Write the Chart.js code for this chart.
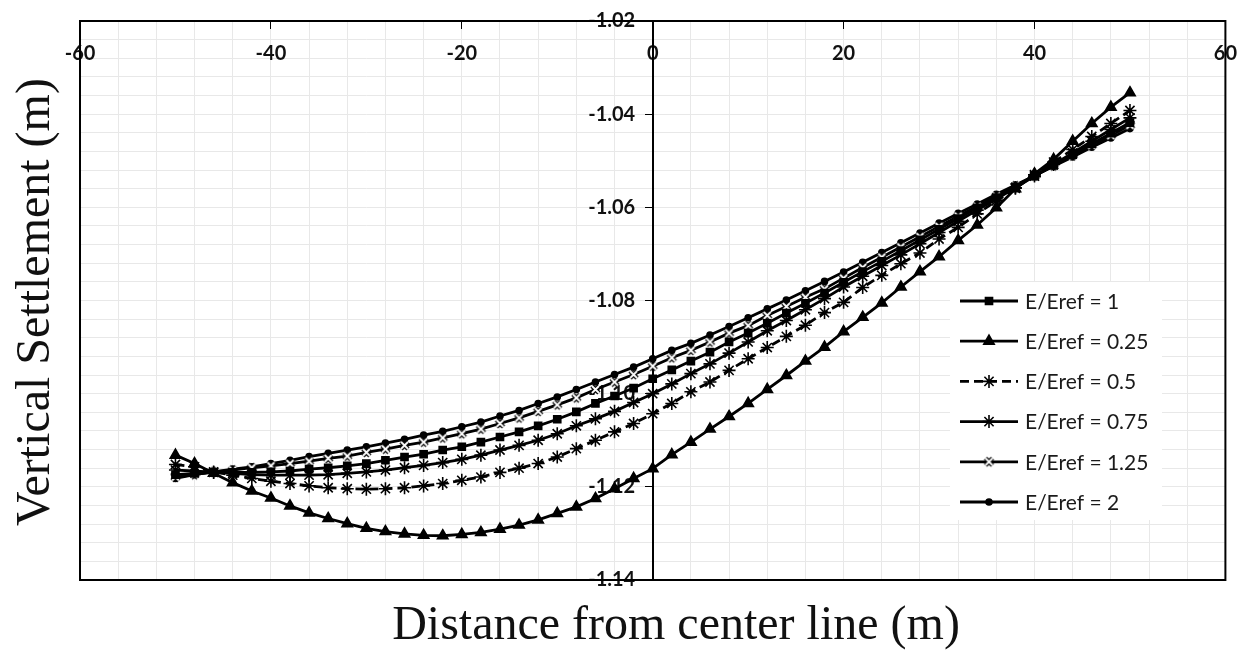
<!DOCTYPE html>
<html>
<head>
<meta charset="utf-8">
<script src="https://cdn.jsdelivr.net/npm/chart.js@4.4.0/dist/chart.umd.min.js"></script>
<style>
  body { margin: 0; background: #fff; }
  #wrap { width: 1251px; height: 652px; }
</style>
</head>
<body>
<div id="wrap"><canvas id="grafico" width="1251" height="652"></canvas></div>
<script>
// distancia al eje (m)
const distancias = [-50, -48, -46, -44, -42, -40, -38, -36, -34, -32, -30, -28, -26, -24, -22, -20, -18, -16, -14, -12, -10, -8, -6, -4, -2,
  0, 2, 4, 6, 8, 10, 12, 14, 16, 18, 20, 22, 24, 26, 28, 30, 32, 34, 36, 38, 40, 42, 44, 46, 48, 50];

// asentamiento vertical (m) para cada E/Eref
const serieE1 = [-1.1174, -1.1171, -1.1169, -1.1169, -1.1169, -1.1168, -1.1166, -1.1162, -1.1159, -1.1155, -1.1150, -1.1143, -1.1136, -1.1130, -1.1121, -1.1114, -1.1104, -1.1093, -1.1082, -1.1069, -1.1055, -1.1039, -1.1021, -1.1005, -1.0988,
  -1.0968, -1.0949, -1.0930, -1.0911, -1.0889, -1.0870, -1.0849, -1.0827, -1.0806, -1.0784, -1.0761, -1.0738, -1.0716, -1.0693, -1.0670, -1.0647, -1.0624, -1.0601, -1.0579, -1.0556, -1.0533, -1.0510, -1.0487, -1.0464, -1.0441, -1.0418];
const serieE025 = [-1.1132, -1.1150, -1.1171, -1.1191, -1.1209, -1.1224, -1.1241, -1.1256, -1.1268, -1.1279, -1.1289, -1.1296, -1.1301, -1.1304, -1.1305, -1.1302, -1.1298, -1.1291, -1.1282, -1.1271, -1.1257, -1.1243, -1.1225, -1.1204, -1.1182,
  -1.1161, -1.1131, -1.1104, -1.1076, -1.1049, -1.1021, -1.0991, -1.0961, -1.0930, -1.0900, -1.0867, -1.0836, -1.0805, -1.0771, -1.0738, -1.0706, -1.0671, -1.0638, -1.0601, -1.0560, -1.0528, -1.0497, -1.0458, -1.0420, -1.0385, -1.0354];
const serieE05 = [-1.1152, -1.1157, -1.1168, -1.1175, -1.1182, -1.1188, -1.1193, -1.1198, -1.1202, -1.1204, -1.1205, -1.1204, -1.1202, -1.1198, -1.1193, -1.1186, -1.1179, -1.1169, -1.1160, -1.1150, -1.1136, -1.1118, -1.1100, -1.1082, -1.1064,
  -1.1043, -1.1021, -1.0996, -1.0975, -1.0950, -1.0925, -1.0901, -1.0877, -1.0853, -1.0826, -1.0804, -1.0772, -1.0746, -1.0721, -1.0698, -1.0668, -1.0643, -1.0614, -1.0586, -1.0559, -1.0530, -1.0503, -1.0476, -1.0448, -1.0420, -1.0392];
const serieE075 = [-1.1164, -1.1166, -1.1169, -1.1171, -1.1174, -1.1175, -1.1175, -1.1175, -1.1174, -1.1171, -1.1168, -1.1164, -1.1159, -1.1154, -1.1148, -1.1141, -1.1132, -1.1121, -1.1111, -1.1100, -1.1086, -1.1069, -1.1054, -1.1038, -1.1019,
  -1.1000, -1.0979, -1.0957, -1.0936, -1.0913, -1.0889, -1.0865, -1.0843, -1.0820, -1.0796, -1.0771, -1.0748, -1.0725, -1.0702, -1.0678, -1.0654, -1.0630, -1.0606, -1.0582, -1.0558, -1.0533, -1.0508, -1.0483, -1.0458, -1.0433, -1.0408];
const serieE125 = [-1.1179, -1.1174, -1.1168, -1.1164, -1.1159, -1.1155, -1.1150, -1.1145, -1.1139, -1.1134, -1.1126, -1.1119, -1.1111, -1.1104, -1.1095, -1.1086, -1.1076, -1.1064, -1.1052, -1.1038, -1.1024, -1.1009, -1.0991, -1.0975, -1.0959,
  -1.0941, -1.0923, -1.0907, -1.0889, -1.0870, -1.0854, -1.0832, -1.0813, -1.0793, -1.0775, -1.0752, -1.0729, -1.0707, -1.0685, -1.0663, -1.0641, -1.0619, -1.0598, -1.0576, -1.0554, -1.0532, -1.0511, -1.0489, -1.0467, -1.0446, -1.0424];
const serieE2 = [-1.1182, -1.1174, -1.1168, -1.1162, -1.1157, -1.1150, -1.1143, -1.1135, -1.1128, -1.1121, -1.1114, -1.1106, -1.1098, -1.1089, -1.1081, -1.1071, -1.1061, -1.1048, -1.1036, -1.1021, -1.1007, -1.0991, -1.0975, -1.0959, -1.0943,
  -1.0925, -1.0907, -1.0892, -1.0874, -1.0856, -1.0837, -1.0818, -1.0799, -1.0779, -1.0759, -1.0739, -1.0718, -1.0697, -1.0676, -1.0655, -1.0634, -1.0613, -1.0593, -1.0572, -1.0552, -1.0532, -1.0512, -1.0492, -1.0471, -1.0451, -1.0431];

const etiquetas = ['E/Eref = 1', 'E/Eref = 0.25', 'E/Eref = 0.5', 'E/Eref = 0.75', 'E/Eref = 1.25', 'E/Eref = 2'];
const ticksX = [-60, -40, -20, 0, 20, 40, 60];
const ticksY = [-1.02, -1.04, -1.06, -1.08, -1.10, -1.12, -1.14];

const esMayor = (lista, v) => lista.some(t => Math.abs(t - v) < 1e-6);

// marcador "x" blanco con borde negro (E/Eref = 1.25)
function marcadorX() {
    const c = document.createElement('canvas');
    c.width = 13; c.height = 13;
    const g = c.getContext('2d');
    const trazo = (color, ancho) => {
        g.strokeStyle = color; g.lineWidth = ancho;
        g.beginPath();
        g.moveTo(3, 3); g.lineTo(10, 10);
        g.moveTo(10, 3); g.lineTo(3, 10);
        g.stroke();
    };
    trazo('#000', 4.5);
    trazo('#fff', 1.8);
    return c;
}

const puntos = serie => distancias.map((d, i) => ({ x: d, y: serie[i] }));

const estilos = [
    { datos: serieE1, pointStyle: 'rect', pointRadius: 5, dash: [] },
    { datos: serieE025, pointStyle: 'triangle', pointRadius: 6, dash: [] },
    { datos: serieE05, pointStyle: 'star', pointRadius: 6.5, dash: [9, 5] },
    { datos: serieE075, pointStyle: 'star', pointRadius: 6.5, dash: [] },
    { datos: serieE125, pointStyle: marcadorX(), pointRadius: 6, dash: [] },
    { datos: serieE2, pointStyle: 'circle', pointRadius: 3, dash: [] }
];

const datasets = estilos.map((e, i) => ({
    label: etiquetas[i],
    data: puntos(e.datos),
    borderColor: '#000',
    backgroundColor: '#000',
    borderWidth: 2.8,
    borderDash: e.dash,
    pointStyle: e.pointStyle,
    pointRadius: e.pointRadius,
    pointBorderWidth: 1.6,
    pointBackgroundColor: '#000',
    pointBorderColor: '#000',
    tension: 0
}));

// marco del area de trazado
const marco = {
    id: 'marco',
    beforeDatasetsDraw(chart) {
        const { ctx, chartArea: a } = chart;
        ctx.save();
        ctx.strokeStyle = '#000';
        ctx.lineWidth = 2;
        ctx.strokeRect(a.left, a.top, a.right - a.left, a.bottom - a.top);
        ctx.restore();
    }
};

// leyenda dentro del grafico y titulos de ejes
const leyenda = {
    id: 'leyenda',
    afterDraw(chart) {
        const ctx = chart.ctx;
        ctx.save();
        ctx.fillStyle = '#fff';
        ctx.fillRect(950, 282, 212, 238);
        chart.data.datasets.forEach((ds, i) => {
            const y = 301 + i * 40.2;
            ctx.strokeStyle = '#000';
            ctx.lineWidth = 2.8;
            ctx.setLineDash(ds.borderDash || []);
            ctx.beginPath();
            ctx.moveTo(960, y);
            ctx.lineTo(1018, y);
            ctx.stroke();
            ctx.setLineDash([]);
            ctx.fillStyle = '#000';
            ctx.lineWidth = ds.pointBorderWidth;
            Chart.helpers.drawPoint(ctx, { pointStyle: ds.pointStyle, radius: ds.pointRadius, borderWidth: ds.pointBorderWidth, rotation: 0 }, 989, y);
            ctx.fillStyle = '#1a1a1a';
            ctx.font = '21px Lato';
            ctx.textAlign = 'left';
            ctx.textBaseline = 'middle';
            ctx.fillText(ds.label, 1025, y + 1);
        });

        ctx.fillStyle = '#111';
        ctx.font = '48px "Liberation Serif"';
        ctx.textAlign = 'center';
        ctx.textBaseline = 'middle';
        ctx.fillText('Distance from center line (m)', 676, 626);
        ctx.translate(36, 302);
        ctx.rotate(-Math.PI / 2);
        ctx.fillText('Vertical Settlement (m)', 0, 0);
        ctx.restore();
    }
};

new Chart(document.getElementById('grafico'), {
    type: 'line',
    data: { datasets },
    plugins: [marco, leyenda],
    options: {
        responsive: false,
        animation: false,
        layout: { padding: { left: 80, top: 21, right: 19, bottom: 72 } },
        plugins: {
            legend: { display: false },
            tooltip: { enabled: false }
        },
        scales: {
            x: {
                type: 'linear',
                min: -60,
                max: 60,
                position: { y: -1.02 },
                afterFit: s => { s.height = 0; },
                border: { color: '#000', width: 2 },
                grid: {
                    color: '#e8e8e8',
                    lineWidth: 1,
                    tickLength: 7,
                    tickColor: c => esMayor(ticksX, c.tick.value) ? '#000' : 'rgba(0,0,0,0)'
                },
                ticks: {
                    stepSize: 4,
                    autoSkip: false,
                    maxRotation: 0,
                    padding: 14,
                    color: '#111',
                    font: { family: 'Lato', size: 20, weight: 'bold' },
                    callback: v => esMayor(ticksX, v) ? String(v) : ''
                }
            },
            y: {
                type: 'linear',
                min: -1.14,
                max: -1.02,
                position: { x: 0 },
                afterFit: s => { s.width = 0; },
                border: { color: '#000', width: 2 },
                grid: {
                    color: '#e8e8e8',
                    lineWidth: 1,
                    tickLength: 7,
                    tickColor: c => esMayor(ticksY, c.tick.value) ? '#000' : 'rgba(0,0,0,0)'
                },
                ticks: {
                    stepSize: 0.004,
                    autoSkip: false,
                    color: '#111',
                    font: { family: 'Lato', size: 20, weight: 'bold' },
                    // espacio final para separar la etiqueta del eje
                    callback: v => esMayor(ticksY, v) ? v.toFixed(2) + '\u2003\u2009' : ''
                }
            }
        }
    }
});
</script>
</body>
</html>
